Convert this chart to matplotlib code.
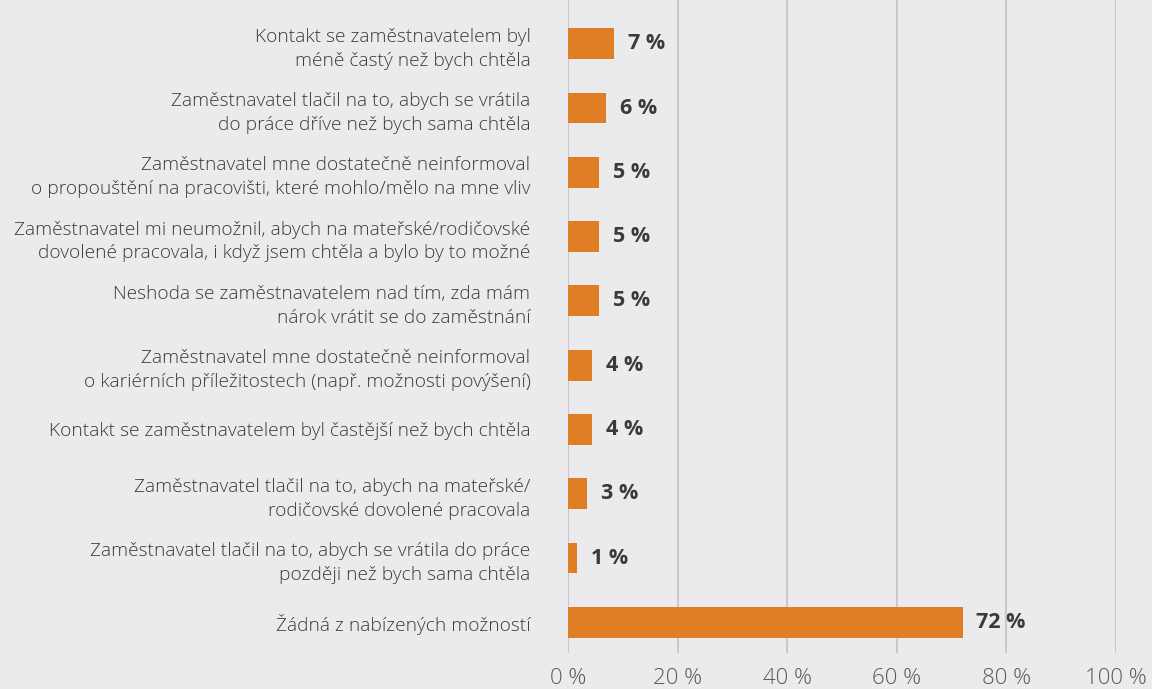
import matplotlib.pyplot as plt

labels = [
    'Kontakt se zaměstnavatelem byl\nméně častý než bych chtěla',
    'Zaměstnavatel tlačil na to, abych se vrátila\ndo práce dříve než bych sama chtěla',
    'Zaměstnavatel mne dostatečně neinformoval\no propouštění na pracovišti, které mohlo/mělo na mne vliv',
    'Zaměstnavatel mi neumožnil, abych na mateřské/rodičovské\ndovolené pracovala, i když jsem chtěla a bylo by to možné',
    'Neshoda se zaměstnavatelem nad tím, zda mám\nnárok vrátit se do zaměstnání',
    'Zaměstnavatel mne dostatečně neinformoval\no kariérních příležitostech (např. možnosti povýšení)',
    'Kontakt se zaměstnavatelem byl častější než bych chtěla',
    'Zaměstnavatel tlačil na to, abych na mateřské/\nrodičovské dovolené pracovala',
    'Zaměstnavatel tlačil na to, abych se vrátila do práce\npozději než bych sama chtěla',
    'Žádná z nabízených možností',
]
# bar lengths as drawn, and the printed value labels
values = [8.4, 6.9, 5.7, 5.7, 5.7, 4.4, 4.4, 3.5, 1.6, 72.0]
value_text = ['7 %', '6 %', '5 %', '5 %', '5 %', '4 %', '4 %', '3 %', '1 %', '72 %']
xticks = [0, 20, 40, 60, 80, 100]

bg = '#EBEBED'
bar_color = '#E07E26'
text_color = '#3A3A3A'

plt.rcParams['font.family'] = ['Open Sans Light', 'Open Sans', 'DejaVu Sans']

fig = plt.figure(figsize=(11.52, 6.89), dpi=100, facecolor=bg)
ax = fig.add_axes([0.493, 0.052, 0.4757, 0.948])
ax.set_facecolor(bg)

y = list(range(len(labels)))
ax.barh(y, values, height=0.48, color=bar_color, zorder=3)

for yi, v, t in zip(y, values, value_text):
    ax.annotate(t, xy=(v, yi), xytext=(10, 0), textcoords='offset points',
                ha='left', va='center', fontsize=15.5, fontweight='bold',
                family=['Open Sans', 'DejaVu Sans'], color=text_color)

ax.set_xlim(0, 100)
ax.set_ylim(9.48, -0.68)
ax.set_xticks(xticks)
ax.set_xticklabels([f'{t} %' for t in xticks], fontsize=16,
                   fontweight='light', color='#595959')
ax.set_yticks(y)
ax.set_yticklabels(labels, fontsize=13.8, fontweight='light',
                   color=text_color, linespacing=1.42)
ax.tick_params(axis='x', length=0, pad=11)
ax.tick_params(axis='y', length=0, pad=27)

ax.xaxis.grid(True, color='#C6C6C6', linewidth=1.3, zorder=0)
ax.set_axisbelow(True)
for s in ax.spines.values():
    s.set_visible(False)

fig.savefig('out.png', dpi=100, facecolor=bg)
